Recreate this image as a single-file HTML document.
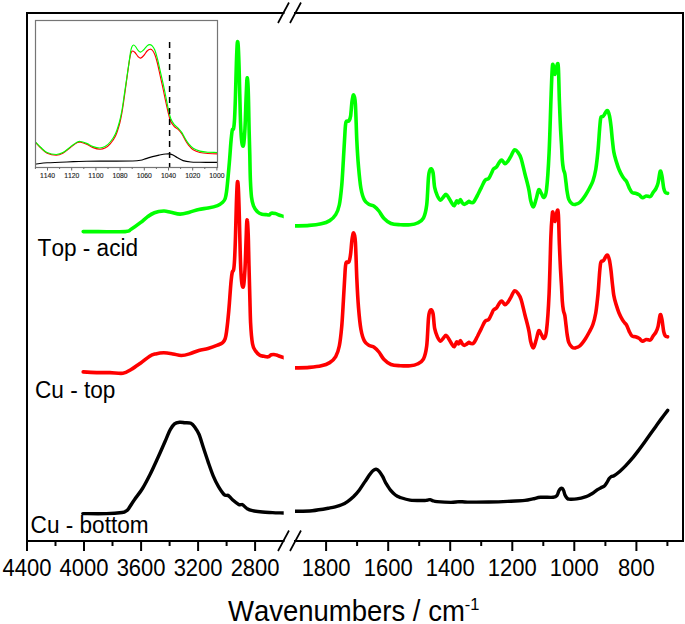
<!DOCTYPE html><html><head><meta charset="utf-8"><style>html,body{margin:0;padding:0;background:#fff;}svg{display:block;}text{font-family:"Liberation Sans",sans-serif;font-kerning:none;}</style></head><body>
<svg width="685" height="624" viewBox="0 0 685 624">
<rect width="685" height="624" fill="#fff"/>
<defs><clipPath id="cl"><rect x="0" y="0" width="283.7" height="624"/></clipPath><clipPath id="cr"><rect x="295.1" y="0" width="400" height="624"/></clipPath></defs>
<path clip-path="url(#cl)" d="M82.8,513.6 C86.7,513.6 99.9,513.8 106.4,513.6 C113.0,513.4 118.8,512.9 122.1,512.5 C125.4,512.1 125.0,511.6 126.0,511.0 C127.0,510.4 127.0,510.8 128.4,508.9 C129.8,507.0 132.2,502.9 134.6,499.5 C136.9,496.1 139.9,492.8 142.5,488.5 C145.1,484.2 147.7,479.2 150.3,474.0 C152.9,468.8 155.5,462.9 158.2,457.0 C160.9,451.1 164.3,443.2 166.3,438.6 C168.3,434.0 169.0,431.8 170.4,429.4 C171.8,426.9 173.0,425.1 174.5,423.9 C176.0,422.7 177.9,422.5 179.6,422.3 C181.3,422.1 182.8,422.5 184.7,422.7 C186.6,422.9 189.2,422.5 190.9,423.3 C192.6,424.1 193.6,425.5 195.0,427.4 C196.4,429.3 197.8,431.3 199.1,434.5 C200.4,437.7 201.6,442.2 203.1,446.8 C204.6,451.4 206.5,457.2 208.2,462.1 C209.9,467.0 211.7,472.3 213.4,476.4 C215.1,480.5 216.7,483.6 218.5,486.6 C220.3,489.6 222.6,493.0 224.0,494.5 C225.4,496.0 226.1,495.2 226.8,495.4 C227.6,495.6 227.6,494.9 228.5,495.6 C229.4,496.3 230.8,498.3 232.5,499.8 C234.2,501.3 237.2,503.6 238.7,504.4 C240.2,505.2 240.6,504.5 241.3,504.6 C242.0,504.7 241.9,504.3 242.8,504.9 C243.7,505.5 245.2,507.4 246.8,508.4 C248.4,509.3 249.9,510.0 252.5,510.6 C255.1,511.2 259.0,511.7 262.4,512.0 C265.8,512.3 269.1,512.4 272.6,512.6 C276.1,512.8 281.2,512.9 283.5,513.0 C285.8,513.1 286.0,513.1 286.5,513.1" fill="none" stroke="#000" stroke-width="3.4" stroke-linejoin="round" stroke-linecap="round"/>
<path clip-path="url(#cr)" d="M292.5,511.4 C293.0,511.4 292.2,511.4 295.5,511.3 C298.8,511.2 306.4,511.3 312.2,510.7 C317.9,510.1 326.0,508.6 330.0,507.9 C334.0,507.2 334.1,507.1 336.0,506.6 C337.9,506.1 339.8,505.6 341.7,504.8 C343.6,504.0 345.6,502.9 347.5,501.6 C349.4,500.3 351.4,498.7 353.4,496.8 C355.3,494.9 357.3,492.7 359.2,490.2 C361.1,487.7 363.2,484.2 365.0,481.6 C366.8,479.0 368.3,476.5 369.7,474.6 C371.1,472.8 372.1,471.4 373.2,470.5 C374.3,469.6 375.1,469.2 376.1,469.3 C377.1,469.4 377.9,469.9 379.0,471.1 C380.1,472.3 381.4,474.3 382.6,476.4 C383.8,478.4 384.6,481.1 386.0,483.4 C387.4,485.7 389.1,488.5 390.7,490.4 C392.3,492.3 393.8,493.8 395.4,495.0 C396.9,496.2 397.6,496.5 400.0,497.4 C402.4,498.2 406.1,499.6 410.0,500.1 C413.9,500.6 420.3,500.5 423.1,500.5 C425.9,500.5 425.8,500.3 427.0,500.2 C428.2,500.1 429.1,499.5 430.1,499.6 C431.1,499.7 431.9,500.5 433.0,500.8 C434.1,501.1 434.0,501.3 437.0,501.6 C440.0,501.9 447.2,502.4 450.9,502.4 C454.6,502.4 456.4,501.7 459.2,501.6 C462.0,501.6 462.6,502.0 467.5,502.1 C472.4,502.2 482.1,502.1 488.8,502.0 C495.5,501.9 501.7,501.7 507.7,501.4 C513.7,501.1 520.7,500.8 524.9,500.4 C529.1,500.0 530.2,499.4 532.8,498.9 C535.4,498.4 537.2,497.6 540.6,497.3 C544.0,497.0 550.5,497.6 553.2,497.3 C555.9,497.0 556.1,496.6 557.0,495.5 C557.9,494.4 558.2,492.2 558.8,491.0 C559.4,489.8 560.2,488.7 560.8,488.3 C561.4,487.9 562.0,488.2 562.5,488.6 C563.0,489.1 563.4,489.9 563.8,491.0 C564.2,492.1 564.4,493.7 565.0,495.0 C565.6,496.3 566.7,497.9 567.5,498.6 C568.3,499.3 568.5,499.1 570.0,499.2 C571.5,499.2 574.0,499.3 576.7,498.9 C579.4,498.5 583.9,497.3 586.1,496.6 C588.3,495.9 588.7,495.5 590.0,494.8 C591.3,494.1 592.7,493.2 594.0,492.3 C595.3,491.4 596.8,490.2 598.0,489.4 C599.2,488.6 599.9,488.3 601.0,487.7 C602.1,487.1 603.5,486.8 604.4,486.0 C605.3,485.2 605.8,484.2 606.6,483.0 C607.4,481.8 608.4,479.7 609.2,478.6 C610.0,477.5 610.7,476.9 611.5,476.4 C612.3,475.9 612.6,476.7 614.0,475.8 C615.4,474.9 618.0,472.9 620.0,471.2 C622.0,469.5 624.0,467.5 626.0,465.4 C628.0,463.3 630.0,461.1 632.0,458.7 C634.0,456.3 636.0,453.7 638.0,451.1 C640.0,448.5 642.0,445.8 644.0,443.0 C646.0,440.2 648.0,437.4 650.0,434.6 C652.0,431.8 654.0,429.0 656.0,426.2 C658.0,423.4 660.0,420.5 662.0,417.9 C664.0,415.3 666.8,411.6 667.7,410.4" fill="none" stroke="#000" stroke-width="3.4" stroke-linejoin="round" stroke-linecap="round"/>
<path clip-path="url(#cl)" d="M83.2,371.9 C85.7,372.0 93.9,372.5 98.4,372.6 C102.9,372.7 105.9,372.5 110.0,372.6 C114.1,372.7 119.4,373.8 122.9,373.3 C126.4,372.8 128.2,371.2 131.1,369.5 C134.0,367.8 137.3,365.4 140.4,363.2 C143.5,361.0 147.2,357.8 149.7,356.2 C152.2,354.6 153.2,354.5 155.6,353.9 C157.9,353.3 160.9,352.7 163.8,352.7 C166.7,352.7 170.2,353.4 173.1,353.9 C176.0,354.4 178.6,355.5 181.3,355.5 C184.0,355.5 186.6,354.8 189.5,353.9 C192.4,353.0 195.7,351.3 198.8,350.4 C201.9,349.5 205.0,349.4 208.1,348.5 C211.2,347.6 215.1,346.2 217.5,345.2 C219.9,344.2 221.4,343.7 222.7,342.6 C224.0,341.5 224.6,340.4 225.2,338.6 C225.8,336.8 226.1,334.9 226.5,332.0 C226.9,329.1 227.3,325.8 227.8,321.0 C228.3,316.2 228.9,309.7 229.4,303.0 C229.9,296.3 230.6,286.2 231.1,281.0 C231.6,275.8 231.9,273.8 232.3,272.0 C232.7,270.2 233.2,272.2 233.6,270.0 C234.0,267.8 234.3,264.7 234.6,259.0 C234.9,253.3 235.2,245.3 235.5,236.0 C235.8,226.7 236.1,211.8 236.4,203.0 C236.7,194.2 237.0,185.7 237.3,183.0 C237.6,180.3 238.0,181.5 238.3,187.0 C238.6,192.5 239.0,204.5 239.3,216.0 C239.6,227.5 240.0,245.7 240.3,256.0 C240.6,266.3 240.9,272.9 241.3,278.0 C241.7,283.1 242.1,285.4 242.5,286.5 C242.9,287.6 243.4,287.4 243.8,284.5 C244.2,281.6 244.6,276.1 245.0,269.0 C245.4,261.9 245.7,249.7 246.0,242.0 C246.3,234.3 246.5,226.5 246.7,223.0 C246.9,219.5 247.2,219.2 247.4,221.0 C247.7,222.8 247.9,226.5 248.2,234.0 C248.5,241.5 248.7,255.7 249.0,266.0 C249.3,276.3 249.5,286.5 249.8,296.0 C250.1,305.5 250.2,315.0 250.6,323.0 C251.0,331.0 251.7,339.1 252.5,343.8 C253.3,348.5 254.4,349.1 255.6,351.0 C256.8,352.9 258.4,354.3 259.8,355.2 C261.2,356.1 262.6,356.0 264.0,356.3 C265.4,356.6 266.9,357.1 268.1,356.8 C269.3,356.6 270.1,355.2 271.3,354.8 C272.5,354.4 274.0,354.4 275.4,354.7 C276.8,354.9 278.2,355.8 279.6,356.3 C281.0,356.8 282.4,357.2 283.5,357.6 C284.6,358.0 286.0,358.4 286.5,358.6" fill="none" stroke="#ff0000" stroke-width="3.6" stroke-linejoin="round" stroke-linecap="round"/>
<path clip-path="url(#cr)" d="M292.3,368.0 C292.8,368.0 292.5,368.0 295.3,367.9 C298.1,367.8 304.9,367.8 309.2,367.4 C313.5,367.0 317.9,366.6 321.3,365.8 C324.7,365.0 327.3,364.1 329.7,362.6 C332.1,361.1 334.1,359.4 335.7,356.6 C337.3,353.8 338.3,351.0 339.3,346.0 C340.3,341.0 341.0,334.4 341.7,326.8 C342.4,319.2 342.9,308.7 343.4,300.3 C343.9,291.9 344.4,282.5 344.8,276.3 C345.2,270.1 345.3,265.5 346.0,263.1 C346.7,260.7 348.1,263.4 348.9,261.9 C349.7,260.4 350.1,257.8 350.6,254.1 C351.1,250.4 351.5,243.1 352.0,239.6 C352.5,236.1 353.1,232.5 353.7,232.9 C354.3,233.3 354.9,234.5 355.4,242.0 C355.9,249.5 356.3,267.2 356.8,278.1 C357.3,289.0 357.8,299.0 358.5,307.5 C359.2,316.0 359.9,323.6 360.9,329.2 C361.9,334.8 363.1,338.5 364.5,341.2 C365.9,343.9 367.7,344.5 369.3,345.5 C370.9,346.5 372.5,346.1 374.1,347.2 C375.7,348.3 377.3,350.0 378.9,352.0 C380.5,354.0 381.8,357.1 383.8,359.2 C385.8,361.3 388.2,363.4 391.0,364.5 C393.8,365.6 397.4,365.5 400.6,365.7 C403.8,365.9 407.4,366.0 410.2,365.7 C413.0,365.4 415.2,365.1 417.4,364.0 C419.6,362.9 421.8,362.2 423.4,359.2 C424.9,356.2 425.8,353.0 426.7,346.0 C427.6,339.0 427.9,323.2 428.6,317.2 C429.2,311.2 429.9,310.5 430.6,309.9 C431.3,309.3 432.3,310.4 433.0,313.5 C433.7,316.6 433.9,324.7 434.7,328.7 C435.5,332.7 436.7,335.2 437.6,337.3 C438.6,339.4 439.4,341.0 440.4,341.1 C441.3,341.2 442.4,339.2 443.3,338.2 C444.2,337.3 445.2,335.2 446.1,335.4 C447.1,335.6 448.1,337.8 449.0,339.2 C449.9,340.6 450.9,342.6 451.8,343.9 C452.7,345.2 453.5,347.1 454.3,346.8 C455.1,346.5 455.9,342.5 456.6,342.0 C457.3,341.5 457.9,344.1 458.5,343.9 C459.1,343.6 459.8,340.5 460.4,340.5 C461.0,340.5 461.7,343.1 462.3,343.9 C462.9,344.7 463.4,345.4 464.2,345.4 C465.0,345.4 466.2,344.4 467.0,343.9 C467.8,343.4 468.3,342.5 468.9,342.4 C469.5,342.3 470.0,343.4 470.8,343.5 C471.6,343.6 472.6,344.2 473.7,343.0 C474.8,341.8 476.1,338.9 477.4,336.5 C478.6,334.1 479.9,331.4 481.2,328.9 C482.5,326.4 483.7,322.9 485.0,321.3 C486.3,319.7 487.7,320.7 488.8,319.4 C489.9,318.1 490.9,315.3 491.7,313.7 C492.5,312.1 492.8,310.8 493.6,309.9 C494.4,308.9 495.4,309.1 496.4,308.0 C497.3,306.9 498.4,304.5 499.3,303.3 C500.2,302.1 500.8,300.8 501.7,301.0 C502.6,301.2 504.0,304.6 505.0,304.8 C506.0,305.0 506.9,303.5 507.8,302.3 C508.8,301.1 509.6,299.5 510.7,297.6 C511.8,295.7 513.2,291.5 514.5,290.9 C515.8,290.3 517.2,292.4 518.3,293.8 C519.4,295.2 520.0,296.0 521.1,299.5 C522.2,303.0 523.6,309.6 524.9,314.7 C526.2,319.8 527.8,325.4 528.7,329.8 C529.7,334.2 529.8,338.2 530.6,341.2 C531.4,344.2 532.5,348.2 533.4,347.9 C534.3,347.6 535.4,342.4 536.3,339.5 C537.2,336.6 537.9,331.5 538.8,330.7 C539.6,329.9 540.5,333.3 541.4,334.6 C542.3,335.9 543.1,339.0 544.0,338.4 C544.9,337.8 545.6,338.2 546.5,330.7 C547.4,323.2 548.4,309.4 549.1,293.6 C549.8,277.8 550.4,249.1 550.9,236.0 C551.4,222.9 551.9,218.9 552.2,215.0 C552.6,211.1 552.5,211.6 553.0,212.7 C553.5,213.8 554.3,221.8 555.0,221.5 C555.7,221.2 556.6,211.9 557.2,210.8 C557.8,209.7 558.0,209.3 558.4,215.0 C558.8,220.7 559.0,235.7 559.4,245.0 C559.8,254.3 560.2,264.2 560.6,271.0 C561.0,277.8 561.2,281.0 561.5,286.0 C561.8,291.0 562.0,297.0 562.3,301.1 C562.6,305.2 563.0,308.0 563.4,310.4 C563.8,312.9 564.5,313.5 564.9,315.9 C565.3,318.3 565.6,321.8 566.0,324.9 C566.4,327.9 566.6,331.1 567.1,334.1 C567.6,337.0 567.9,340.3 568.8,342.5 C569.6,344.7 571.1,346.5 572.2,347.4 C573.3,348.3 574.2,348.2 575.5,347.9 C576.8,347.6 578.3,347.3 580.0,345.7 C581.7,344.1 584.1,340.7 585.6,338.4 C587.1,336.1 588.1,334.3 589.3,332.0 C590.5,329.7 591.8,327.7 592.9,324.5 C594.0,321.3 594.9,317.8 595.8,312.7 C596.6,307.6 597.4,300.2 598.0,294.0 C598.6,287.8 599.0,280.3 599.4,275.2 C599.8,270.1 600.2,265.6 600.6,263.3 C601.0,261.0 601.2,261.5 601.6,261.1 C602.0,260.7 602.5,261.3 603.0,260.9 C603.5,260.5 603.9,259.8 604.5,258.9 C605.1,258.0 606.0,255.8 606.6,255.3 C607.2,254.8 607.6,255.2 608.1,256.0 C608.6,256.9 609.0,258.0 609.5,260.4 C610.0,262.8 610.5,266.6 611.0,270.5 C611.5,274.4 611.9,279.8 612.4,283.9 C612.9,288.0 613.2,292.0 613.8,295.4 C614.4,298.8 615.1,301.2 616.0,304.1 C616.9,307.0 617.8,310.1 618.9,312.7 C620.0,315.3 621.5,318.2 622.5,319.9 C623.5,321.6 624.0,321.9 624.7,322.8 C625.4,323.7 625.9,323.9 626.7,325.4 C627.5,326.9 628.4,329.8 629.3,331.6 C630.2,333.4 631.0,335.1 632.0,336.0 C633.0,336.9 634.3,336.4 635.5,336.8 C636.7,337.2 637.8,337.6 639.0,338.3 C640.2,339.0 641.4,341.0 642.6,341.2 C643.8,341.4 644.8,339.7 646.1,339.5 C647.4,339.3 649.3,340.6 650.5,340.0 C651.7,339.4 652.2,337.3 653.1,336.0 C654.0,334.7 655.0,334.0 655.8,332.4 C656.6,330.8 657.4,329.2 658.1,326.3 C658.8,323.4 659.6,316.0 660.2,314.8 C660.8,313.6 661.3,316.4 661.9,319.2 C662.5,322.0 663.1,328.8 663.7,331.6 C664.3,334.4 664.8,335.1 665.4,336.0 C666.0,336.9 667.2,336.7 667.6,336.8" fill="none" stroke="#ff0000" stroke-width="3.6" stroke-linejoin="round" stroke-linecap="round"/>
<path clip-path="url(#cl)" d="M83.2,231.6 C85.7,231.6 91.4,231.6 98.4,231.6 C105.4,231.6 119.8,232.0 125.2,231.6 C130.7,231.2 128.6,230.7 131.1,229.2 C133.6,227.7 137.7,224.8 140.4,222.7 C143.1,220.6 145.1,218.6 147.4,216.9 C149.7,215.2 151.7,213.7 154.4,212.7 C157.1,211.7 161.1,211.1 163.8,211.0 C166.5,210.9 168.1,211.7 170.8,212.2 C173.5,212.7 177.0,214.1 180.1,214.1 C183.2,214.1 186.4,213.0 189.5,212.2 C192.6,211.4 195.7,210.1 198.8,209.4 C201.9,208.7 205.0,208.6 208.1,208.0 C211.2,207.4 215.1,206.5 217.5,205.6 C219.9,204.7 221.4,203.5 222.7,202.3 C224.0,201.1 224.6,200.2 225.2,198.5 C225.8,196.8 226.1,194.8 226.5,192.0 C226.9,189.2 227.1,187.0 227.6,182.0 C228.1,177.0 228.8,168.9 229.4,161.9 C230.0,154.9 230.6,145.3 231.1,140.0 C231.6,134.7 231.9,131.9 232.3,130.0 C232.7,128.1 233.2,130.5 233.6,128.5 C234.0,126.5 234.3,123.6 234.6,118.0 C234.9,112.4 235.2,104.2 235.5,95.0 C235.8,85.8 236.1,71.7 236.4,63.0 C236.7,54.3 237.0,45.7 237.3,43.0 C237.6,40.3 238.0,41.7 238.3,47.0 C238.6,52.3 239.0,63.7 239.3,75.0 C239.6,86.3 240.0,104.7 240.3,115.0 C240.6,125.3 240.9,131.9 241.3,137.0 C241.7,142.1 242.1,144.4 242.5,145.5 C242.9,146.6 243.4,146.4 243.8,143.5 C244.2,140.6 244.6,135.2 245.0,128.0 C245.4,120.8 245.7,107.8 246.0,100.0 C246.3,92.2 246.6,84.5 246.8,81.0 C247.1,77.5 247.2,77.0 247.5,79.0 C247.8,81.0 248.1,85.3 248.3,93.0 C248.6,100.7 248.8,114.7 249.0,125.0 C249.2,135.3 249.6,145.8 249.8,155.0 C250.0,164.2 250.1,173.0 250.4,180.0 C250.7,187.0 251.0,192.7 251.5,197.0 C252.0,201.3 252.5,203.3 253.5,205.8 C254.5,208.3 256.3,210.7 257.7,212.1 C259.1,213.5 260.3,213.8 261.9,214.2 C263.5,214.6 265.9,214.6 267.1,214.7 C268.3,214.8 268.6,215.2 269.3,215.0 C270.0,214.8 270.3,213.4 271.3,213.2 C272.3,213.0 274.0,213.3 275.4,213.6 C276.8,213.9 278.2,214.7 279.6,215.2 C281.0,215.7 282.4,216.0 283.5,216.4 C284.6,216.8 286.0,217.2 286.5,217.3" fill="none" stroke="#00ff00" stroke-width="3.6" stroke-linejoin="round" stroke-linecap="round"/>
<path clip-path="url(#cr)" d="M292.3,226.0 C292.8,226.0 292.5,226.0 295.3,225.9 C298.1,225.8 304.9,225.8 309.2,225.4 C313.5,225.1 317.9,224.6 321.3,223.8 C324.7,223.0 327.3,222.1 329.7,220.6 C332.1,219.1 334.1,217.2 335.7,214.6 C337.3,212.0 338.3,209.8 339.3,205.0 C340.3,200.2 341.0,193.4 341.7,185.8 C342.4,178.2 342.9,167.7 343.4,159.3 C343.9,150.9 344.4,141.5 344.8,135.3 C345.2,129.1 345.3,124.5 346.0,122.1 C346.7,119.7 348.1,121.9 348.9,120.9 C349.7,119.9 350.1,119.3 350.6,116.1 C351.1,112.9 351.5,105.1 352.0,101.6 C352.5,98.1 353.1,94.5 353.7,94.9 C354.3,95.3 354.9,96.5 355.4,104.0 C355.9,111.5 356.3,129.7 356.8,140.1 C357.3,150.5 357.8,158.5 358.5,166.5 C359.2,174.5 359.9,182.6 360.9,188.2 C361.9,193.8 363.1,197.5 364.5,200.2 C365.9,202.9 367.7,203.5 369.3,204.5 C370.9,205.5 372.5,205.1 374.1,206.2 C375.7,207.3 377.3,209.0 378.9,211.0 C380.5,213.0 381.8,216.1 383.8,218.2 C385.8,220.3 388.2,222.4 391.0,223.5 C393.8,224.6 397.4,224.5 400.6,224.7 C403.8,224.9 407.4,225.0 410.2,224.7 C413.0,224.4 415.2,224.1 417.4,223.0 C419.6,221.9 421.8,221.2 423.4,218.2 C424.9,215.2 425.8,212.0 426.7,205.0 C427.6,198.0 427.9,182.2 428.6,176.2 C429.2,170.2 429.9,169.5 430.6,168.9 C431.3,168.3 432.3,169.4 433.0,172.5 C433.7,175.6 433.9,183.7 434.7,187.7 C435.5,191.7 436.7,194.2 437.6,196.3 C438.6,198.4 439.4,200.0 440.4,200.1 C441.3,200.3 442.4,198.2 443.3,197.2 C444.2,196.2 445.2,194.2 446.1,194.4 C447.1,194.6 448.1,196.8 449.0,198.2 C449.9,199.6 450.9,201.6 451.8,202.9 C452.7,204.2 453.5,206.1 454.3,205.8 C455.1,205.5 455.9,201.5 456.6,201.0 C457.3,200.5 457.9,203.2 458.5,202.9 C459.1,202.7 459.8,199.5 460.4,199.5 C461.0,199.5 461.7,202.1 462.3,202.9 C462.9,203.7 463.4,204.4 464.2,204.4 C465.0,204.4 466.2,203.4 467.0,202.9 C467.8,202.4 468.3,201.5 468.9,201.4 C469.5,201.3 470.0,202.4 470.8,202.5 C471.6,202.6 472.6,203.2 473.7,202.0 C474.8,200.8 476.1,197.8 477.4,195.5 C478.6,193.2 479.9,190.4 481.2,187.9 C482.5,185.4 483.7,181.9 485.0,180.3 C486.3,178.7 487.7,179.7 488.8,178.4 C489.9,177.1 490.9,174.3 491.7,172.7 C492.5,171.1 492.8,169.8 493.6,168.9 C494.4,168.0 495.4,168.1 496.4,167.0 C497.3,165.9 498.4,163.5 499.3,162.3 C500.2,161.1 500.8,159.8 501.7,160.0 C502.6,160.2 504.0,163.6 505.0,163.8 C506.0,164.0 506.9,162.5 507.8,161.3 C508.8,160.1 509.6,158.5 510.7,156.6 C511.8,154.7 513.2,150.5 514.5,149.9 C515.8,149.3 517.2,151.4 518.3,152.8 C519.4,154.2 520.0,155.0 521.1,158.5 C522.2,162.0 523.6,168.6 524.9,173.7 C526.2,178.8 527.8,184.4 528.7,188.8 C529.7,193.2 529.8,197.2 530.6,200.2 C531.4,203.2 532.5,207.2 533.4,206.9 C534.3,206.6 535.4,201.4 536.3,198.5 C537.2,195.6 537.9,190.5 538.8,189.7 C539.6,188.9 540.5,192.3 541.4,193.6 C542.3,194.9 543.1,198.1 544.0,197.4 C544.9,196.8 545.6,197.2 546.5,189.7 C547.4,182.2 548.4,167.3 549.1,152.6 C549.8,137.9 550.4,115.2 550.9,101.3 C551.4,87.4 551.8,75.0 552.2,69.0 C552.6,63.0 552.7,64.1 553.2,65.0 C553.7,65.9 554.3,74.6 555.0,74.5 C555.7,74.4 556.6,65.6 557.2,64.5 C557.8,63.4 558.0,61.9 558.4,68.0 C558.8,74.1 559.0,91.0 559.4,101.3 C559.8,111.6 560.2,122.7 560.6,130.0 C561.0,137.3 561.2,140.0 561.5,145.0 C561.8,150.0 562.0,156.0 562.3,160.0 C562.6,164.0 563.0,166.7 563.4,169.0 C563.8,171.3 564.5,171.7 564.9,174.0 C565.3,176.3 565.6,179.7 566.0,182.6 C566.4,185.5 566.6,188.7 567.1,191.5 C567.6,194.3 567.9,197.3 568.8,199.4 C569.6,201.5 571.1,203.1 572.2,203.9 C573.3,204.7 574.2,204.7 575.5,204.4 C576.8,204.1 578.3,203.8 580.0,202.2 C581.7,200.6 584.1,197.2 585.6,194.9 C587.1,192.6 588.1,190.8 589.3,188.5 C590.5,186.2 591.8,184.2 592.9,181.0 C594.0,177.8 594.9,174.3 595.8,169.2 C596.6,164.1 597.4,156.8 598.0,150.5 C598.6,144.2 599.0,137.0 599.4,131.7 C599.8,126.4 600.2,121.3 600.6,118.8 C601.0,116.3 601.2,117.0 601.6,116.6 C602.0,116.2 602.5,116.8 603.0,116.4 C603.5,116.0 603.9,115.3 604.5,114.4 C605.1,113.5 606.0,111.3 606.6,110.8 C607.2,110.3 607.6,110.7 608.1,111.5 C608.6,112.3 609.0,113.5 609.5,115.9 C610.0,118.3 610.5,121.9 611.0,126.0 C611.5,130.1 611.9,136.1 612.4,140.4 C612.9,144.7 613.2,148.5 613.8,151.9 C614.4,155.3 615.1,157.7 616.0,160.6 C616.9,163.5 617.8,166.6 618.9,169.2 C620.0,171.8 621.5,174.7 622.5,176.4 C623.5,178.1 624.0,178.4 624.7,179.3 C625.4,180.2 625.9,180.4 626.7,181.9 C627.5,183.4 628.4,186.3 629.3,188.1 C630.2,189.9 631.0,191.6 632.0,192.5 C633.0,193.4 634.3,192.9 635.5,193.3 C636.7,193.7 637.8,194.1 639.0,194.8 C640.2,195.5 641.4,197.5 642.6,197.7 C643.8,197.9 644.8,196.2 646.1,196.0 C647.4,195.8 649.3,197.1 650.5,196.5 C651.7,195.9 652.2,193.8 653.1,192.5 C654.0,191.2 655.0,190.5 655.8,188.9 C656.6,187.3 657.4,185.7 658.1,182.8 C658.8,179.9 659.6,172.5 660.2,171.3 C660.8,170.1 661.3,172.9 661.9,175.7 C662.5,178.5 663.1,185.3 663.7,188.1 C664.3,190.9 664.8,191.6 665.4,192.5 C666.0,193.4 667.2,193.2 667.6,193.3" fill="none" stroke="#00ff00" stroke-width="3.6" stroke-linejoin="round" stroke-linecap="round"/>
<rect x="35.5" y="20.5" width="182" height="147" fill="#fff" stroke="none"/>
<path d="M35.3,164.1 C37.3,163.9 42.9,163.1 47.1,162.8 C51.3,162.5 55.9,162.5 60.3,162.3 C64.7,162.1 69.0,161.8 73.4,161.6 C77.8,161.4 82.2,161.3 86.6,161.2 C91.0,161.1 95.0,161.1 100.0,161.1 C105.0,161.1 110.9,161.1 116.4,161.1 C121.9,161.1 128.8,161.1 132.8,161.0 C136.8,160.9 138.3,160.7 140.5,160.3 C142.7,159.9 144.0,159.2 146.0,158.6 C148.0,158.0 150.4,157.2 152.6,156.6 C154.8,156.0 156.9,155.5 159.1,155.1 C161.3,154.7 164.0,154.2 165.7,154.0 C167.4,153.8 168.1,153.7 169.3,153.9 C170.5,154.1 171.6,154.3 173.0,155.0 C174.4,155.7 175.8,156.9 177.5,157.8 C179.2,158.7 180.9,159.9 183.1,160.6 C185.3,161.3 188.1,161.7 190.9,162.0 C193.7,162.3 195.5,162.2 199.9,162.3 C204.3,162.4 214.4,162.3 217.3,162.3" fill="none" stroke="#000" stroke-width="1.15"/>
<path d="M35.3,142.2 C36.2,143.1 38.6,146.0 40.6,147.8 C42.6,149.6 44.5,152.0 47.1,153.2 C49.7,154.4 53.7,155.2 56.3,155.2 C58.9,155.2 60.5,154.5 62.9,153.2 C65.3,151.9 68.4,149.0 70.8,147.2 C73.2,145.4 75.8,143.4 77.4,142.6 C79.0,141.8 79.1,141.9 80.6,142.2 C82.1,142.5 84.5,143.3 86.6,144.2 C88.7,145.1 90.9,146.8 93.1,147.6 C95.3,148.4 97.7,149.1 99.7,149.2 C101.7,149.3 103.2,148.9 105.0,148.0 C106.8,147.1 108.5,145.8 110.2,143.8 C112.0,141.8 114.0,139.2 115.5,136.0 C117.0,132.8 118.3,128.4 119.4,124.5 C120.5,120.5 121.1,117.2 122.0,112.3 C122.9,107.4 123.7,101.5 124.6,95.0 C125.5,88.5 126.7,79.5 127.6,73.0 C128.5,66.5 129.5,59.5 130.2,56.0 C130.8,52.5 131.1,52.8 131.5,52.0 C131.9,51.2 132.2,50.9 132.8,51.0 C133.4,51.1 134.1,51.6 135.0,52.5 C135.9,53.4 137.1,55.6 138.0,56.5 C138.9,57.4 139.6,58.3 140.6,58.1 C141.6,57.9 142.7,56.7 143.8,55.5 C144.9,54.3 146.1,52.0 147.1,51.0 C148.1,50.0 149.1,49.3 150.0,49.2 C150.9,49.1 151.8,49.5 152.6,50.5 C153.4,51.5 154.2,52.8 155.0,55.0 C155.8,57.2 156.7,60.2 157.5,63.5 C158.3,66.8 159.1,70.8 160.0,75.0 C160.9,79.2 162.0,83.8 163.0,88.5 C164.0,93.2 165.1,98.9 166.0,103.0 C166.9,107.1 167.6,110.0 168.3,113.0 C169.1,116.0 169.5,118.8 170.5,121.0 C171.5,123.2 172.8,124.8 174.1,126.3 C175.4,127.8 177.3,128.5 178.6,129.8 C179.9,131.1 180.8,132.3 181.9,134.0 C183.0,135.7 184.2,138.3 185.3,140.2 C186.4,142.1 187.4,143.7 188.7,145.3 C190.0,146.9 191.3,148.6 193.2,149.8 C195.1,151.0 197.5,151.9 199.9,152.5 C202.3,153.1 204.9,153.3 207.8,153.5 C210.7,153.7 215.7,153.8 217.3,153.8" fill="none" stroke="#ff0000" stroke-width="1.15"/>
<path d="M35.3,141.8 C36.2,142.7 38.6,145.5 40.6,147.3 C42.6,149.1 44.5,151.4 47.1,152.6 C49.7,153.8 53.7,154.5 56.3,154.5 C58.9,154.5 60.5,153.9 62.9,152.6 C65.3,151.3 68.4,148.4 70.8,146.6 C73.2,144.8 75.8,142.8 77.4,142.0 C79.0,141.2 79.1,141.3 80.6,141.5 C82.1,141.7 84.5,142.6 86.6,143.4 C88.7,144.2 90.9,145.8 93.1,146.6 C95.3,147.4 97.7,148.0 99.7,148.0 C101.7,148.0 103.2,147.6 105.0,146.6 C106.8,145.6 108.5,144.1 110.2,142.0 C112.0,139.9 114.0,137.1 115.5,133.8 C117.0,130.5 118.3,126.0 119.4,122.0 C120.5,118.0 121.1,114.9 122.0,110.0 C122.9,105.1 123.6,99.2 124.6,92.7 C125.6,86.2 126.8,77.5 127.8,70.9 C128.8,64.3 129.8,56.9 130.4,52.9 C131.1,48.9 131.2,48.5 131.7,47.2 C132.2,45.9 133.0,45.1 133.6,45.0 C134.2,44.9 134.8,45.6 135.5,46.5 C136.2,47.4 137.2,49.5 138.1,50.4 C138.9,51.3 139.6,52.2 140.6,52.1 C141.6,52.0 142.7,50.7 143.8,49.7 C144.9,48.7 146.1,46.8 147.1,45.9 C148.1,45.0 148.8,44.6 149.6,44.6 C150.4,44.6 151.3,45.0 152.2,45.9 C153.0,46.8 153.8,47.7 154.7,49.7 C155.5,51.7 156.4,54.8 157.3,58.1 C158.2,61.4 158.9,65.3 159.9,69.6 C160.9,73.9 162.0,78.8 163.1,83.7 C164.2,88.6 165.4,94.7 166.3,99.1 C167.2,103.5 167.8,106.8 168.5,110.0 C169.2,113.2 169.8,116.1 170.7,118.5 C171.6,120.9 172.8,122.6 174.1,124.3 C175.4,126.0 177.3,127.2 178.6,128.6 C179.9,130.0 180.8,130.9 181.9,132.6 C183.0,134.3 184.2,136.8 185.3,138.7 C186.4,140.6 187.4,142.2 188.7,143.8 C190.0,145.4 191.3,147.1 193.2,148.3 C195.1,149.5 197.5,150.4 199.9,151.1 C202.3,151.8 204.9,152.0 207.8,152.2 C210.7,152.4 215.7,152.4 217.3,152.5" fill="none" stroke="#00ff00" stroke-width="1.15"/>
<line x1="169.6" y1="42" x2="169.6" y2="167.5" stroke="#000" stroke-width="1.5" stroke-dasharray="6,5"/>
<rect x="35.5" y="20.5" width="182" height="147" fill="none" stroke="#757575" stroke-width="1.2"/>
<line x1="35.4" y1="167.5" x2="35.4" y2="169.0" stroke="#6a6a6a" stroke-width="1"/>
<line x1="47.5" y1="167.5" x2="47.5" y2="170.5" stroke="#6a6a6a" stroke-width="1"/>
<line x1="59.6" y1="167.5" x2="59.6" y2="169.0" stroke="#6a6a6a" stroke-width="1"/>
<line x1="71.7" y1="167.5" x2="71.7" y2="170.5" stroke="#6a6a6a" stroke-width="1"/>
<line x1="83.8" y1="167.5" x2="83.8" y2="169.0" stroke="#6a6a6a" stroke-width="1"/>
<line x1="95.9" y1="167.5" x2="95.9" y2="170.5" stroke="#6a6a6a" stroke-width="1"/>
<line x1="108.0" y1="167.5" x2="108.0" y2="169.0" stroke="#6a6a6a" stroke-width="1"/>
<line x1="120.1" y1="167.5" x2="120.1" y2="170.5" stroke="#6a6a6a" stroke-width="1"/>
<line x1="132.2" y1="167.5" x2="132.2" y2="169.0" stroke="#6a6a6a" stroke-width="1"/>
<line x1="144.3" y1="167.5" x2="144.3" y2="170.5" stroke="#6a6a6a" stroke-width="1"/>
<line x1="156.4" y1="167.5" x2="156.4" y2="169.0" stroke="#6a6a6a" stroke-width="1"/>
<line x1="168.5" y1="167.5" x2="168.5" y2="170.5" stroke="#6a6a6a" stroke-width="1"/>
<line x1="180.6" y1="167.5" x2="180.6" y2="169.0" stroke="#6a6a6a" stroke-width="1"/>
<line x1="192.7" y1="167.5" x2="192.7" y2="170.5" stroke="#6a6a6a" stroke-width="1"/>
<line x1="204.8" y1="167.5" x2="204.8" y2="169.0" stroke="#6a6a6a" stroke-width="1"/>
<line x1="216.9" y1="167.5" x2="216.9" y2="170.5" stroke="#6a6a6a" stroke-width="1"/>
<text x="47.5" y="178" font-size="6.8" text-anchor="middle" fill="#1a1a1a" stroke="#1a1a1a" stroke-width="0.12">1140</text>
<text x="71.7" y="178" font-size="6.8" text-anchor="middle" fill="#1a1a1a" stroke="#1a1a1a" stroke-width="0.12">1120</text>
<text x="95.9" y="178" font-size="6.8" text-anchor="middle" fill="#1a1a1a" stroke="#1a1a1a" stroke-width="0.12">1100</text>
<text x="120.1" y="178" font-size="6.8" text-anchor="middle" fill="#1a1a1a" stroke="#1a1a1a" stroke-width="0.12">1080</text>
<text x="144.3" y="178" font-size="6.8" text-anchor="middle" fill="#1a1a1a" stroke="#1a1a1a" stroke-width="0.12">1060</text>
<text x="168.5" y="178" font-size="6.8" text-anchor="middle" fill="#1a1a1a" stroke="#1a1a1a" stroke-width="0.12">1040</text>
<text x="192.7" y="178" font-size="6.8" text-anchor="middle" fill="#1a1a1a" stroke="#1a1a1a" stroke-width="0.12">1020</text>
<text x="216.9" y="178" font-size="6.8" text-anchor="middle" fill="#1a1a1a" stroke="#1a1a1a" stroke-width="0.12">1000</text>
<path d="M27,541 V13 H283.5 M295,13 H683 V541 H295 M283.5,541 H27" fill="none" stroke="#000" stroke-width="2" stroke-linecap="square"/>
<path d="M278,23.0 L289,2.5 M290,23.0 L301,2.5" stroke="#000" stroke-width="1.7" fill="none"/>
<path d="M278,551.0 L289,530.5 M290,551.0 L301,530.5" stroke="#000" stroke-width="1.7" fill="none"/>
<line x1="27.0" y1="541" x2="27.0" y2="551" stroke="#000" stroke-width="2"/>
<line x1="84.0" y1="541" x2="84.0" y2="551" stroke="#000" stroke-width="2"/>
<line x1="141.1" y1="541" x2="141.1" y2="551" stroke="#000" stroke-width="2"/>
<line x1="198.1" y1="541" x2="198.1" y2="551" stroke="#000" stroke-width="2"/>
<line x1="255.1" y1="541" x2="255.1" y2="551" stroke="#000" stroke-width="2"/>
<line x1="55.5" y1="541" x2="55.5" y2="546" stroke="#000" stroke-width="2"/>
<line x1="112.5" y1="541" x2="112.5" y2="546" stroke="#000" stroke-width="2"/>
<line x1="169.6" y1="541" x2="169.6" y2="546" stroke="#000" stroke-width="2"/>
<line x1="226.6" y1="541" x2="226.6" y2="546" stroke="#000" stroke-width="2"/>
<line x1="326.1" y1="541" x2="326.1" y2="551" stroke="#000" stroke-width="2"/>
<line x1="388.2" y1="541" x2="388.2" y2="551" stroke="#000" stroke-width="2"/>
<line x1="450.2" y1="541" x2="450.2" y2="551" stroke="#000" stroke-width="2"/>
<line x1="512.3" y1="541" x2="512.3" y2="551" stroke="#000" stroke-width="2"/>
<line x1="574.3" y1="541" x2="574.3" y2="551" stroke="#000" stroke-width="2"/>
<line x1="636.4" y1="541" x2="636.4" y2="551" stroke="#000" stroke-width="2"/>
<line x1="357.1" y1="541" x2="357.1" y2="546" stroke="#000" stroke-width="2"/>
<line x1="419.2" y1="541" x2="419.2" y2="546" stroke="#000" stroke-width="2"/>
<line x1="481.2" y1="541" x2="481.2" y2="546" stroke="#000" stroke-width="2"/>
<line x1="543.3" y1="541" x2="543.3" y2="546" stroke="#000" stroke-width="2"/>
<line x1="605.4" y1="541" x2="605.4" y2="546" stroke="#000" stroke-width="2"/>
<line x1="667.4" y1="541" x2="667.4" y2="546" stroke="#000" stroke-width="2"/>
<text transform="translate(27.0,576) scale(1,1.062)" font-size="22" text-anchor="middle" fill="#000">4400</text>
<text transform="translate(84.0,576) scale(1,1.062)" font-size="22" text-anchor="middle" fill="#000">4000</text>
<text transform="translate(141.1,576) scale(1,1.062)" font-size="22" text-anchor="middle" fill="#000">3600</text>
<text transform="translate(198.1,576) scale(1,1.062)" font-size="22" text-anchor="middle" fill="#000">3200</text>
<text transform="translate(255.1,576) scale(1,1.062)" font-size="22" text-anchor="middle" fill="#000">2800</text>
<text transform="translate(326.1,576) scale(1,1.062)" font-size="22" text-anchor="middle" fill="#000">1800</text>
<text transform="translate(388.2,576) scale(1,1.062)" font-size="22" text-anchor="middle" fill="#000">1600</text>
<text transform="translate(450.2,576) scale(1,1.062)" font-size="22" text-anchor="middle" fill="#000">1400</text>
<text transform="translate(512.3,576) scale(1,1.062)" font-size="22" text-anchor="middle" fill="#000">1200</text>
<text transform="translate(574.3,576) scale(1,1.062)" font-size="22" text-anchor="middle" fill="#000">1000</text>
<text transform="translate(636.4,576) scale(1,1.062)" font-size="22" text-anchor="middle" fill="#000">800</text>
<text transform="translate(228,621.4) scale(1,1.05)" font-size="27.5" fill="#000">Wavenumbers / cm<tspan dy="-10.5" font-size="16.5">-1</tspan></text>
<text transform="translate(37.6,256) scale(1,1.06)" font-size="22.6" fill="#000">Top - acid</text>
<text transform="translate(35,397.6) scale(1,1.06)" font-size="22.6" fill="#000">Cu - top</text>
<text transform="translate(30.6,533) scale(1,1.06)" font-size="22.6" fill="#000">Cu - bottom</text>
</svg></body></html>
